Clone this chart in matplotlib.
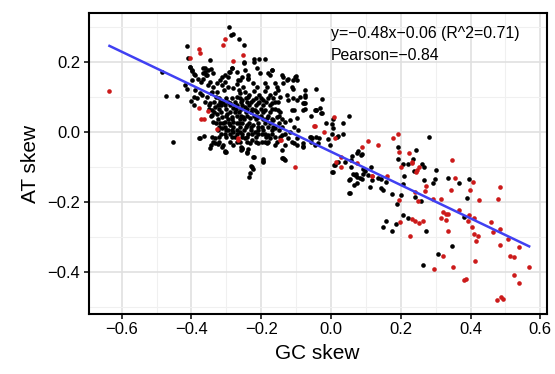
import numpy as np
import matplotlib
matplotlib.use("Agg")
import matplotlib.pyplot as plt
from matplotlib.ticker import MultipleLocator

plt.rcParams["font.family"] = ["Liberation Sans", "DejaVu Sans"]

# (GC skew, AT skew) pairs
black_upper = [
    (-0.291, 0.300), (-0.281, 0.278), (-0.287, 0.276), (-0.264, 0.264), (-0.249, 0.249),
    (-0.413, 0.246), (-0.411, 0.210), (-0.348, 0.205), (-0.484, 0.171), (-0.472, 0.103),
    (-0.441, 0.103), (-0.452, -0.029), (-0.222, 0.207), (-0.206, 0.207), (-0.189, 0.207),
    (-0.249, 0.200), (-0.249, 0.197), (-0.220, 0.200), (-0.285, 0.181), (-0.292, 0.171),
    (-0.270, 0.171), (-0.361, 0.181), (-0.353, 0.176), (-0.344, 0.178), (-0.404, 0.184),
    (-0.399, 0.176), (-0.394, 0.166), (-0.359, 0.162), (-0.366, 0.167), (-0.339, 0.167),
    (-0.213, 0.181), (-0.203, 0.167), (-0.181, 0.167), (-0.170, 0.176), (-0.246, 0.176),
    (-0.237, 0.162), (-0.266, 0.148), (-0.304, 0.162), (-0.313, 0.157), (-0.256, 0.157),
    (-0.141, 0.162), (-0.127, 0.148), (-0.103, 0.157), (-0.098, 0.148), (-0.112, 0.129),
    (-0.074, 0.119), (-0.043, 0.121), (-0.043, 0.062), (-0.078, 0.081), (-0.107, 0.062),
    (-0.056, 0.045), (-0.175, 0.162), (-0.168, 0.176), (-0.139, 0.157), (-0.124, 0.151),
    (-0.100, 0.160), (-0.239, 0.154), (-0.223, 0.138), (-0.213, 0.129), (-0.189, 0.138),
    (-0.184, 0.129), (-0.160, 0.138), (-0.156, 0.129), (-0.151, 0.119), (-0.137, 0.138),
    (-0.108, 0.148), (-0.108, 0.122), (-0.074, 0.105), (-0.261, 0.148), (-0.251, 0.129),
    (-0.237, 0.152), (-0.265, 0.119), (-0.246, 0.114),
    (-0.404, 0.184), (-0.399, 0.173), (-0.390, 0.162), (-0.380, 0.152), (-0.366, 0.181),
    (-0.361, 0.171), (-0.356, 0.162), (-0.366, 0.152), (-0.373, 0.143), (-0.399, 0.148),
    (-0.347, 0.143), (-0.352, 0.133), (-0.337, 0.129), (-0.328, 0.138), (-0.318, 0.148),
    (-0.313, 0.133), (-0.304, 0.143), (-0.294, 0.157), (-0.290, 0.171), (-0.283, 0.181),
    (-0.294, 0.129), (-0.308, 0.119), (-0.328, 0.114), (-0.342, 0.114), (-0.418, 0.133),
    (-0.414, 0.122), (-0.390, 0.119), (-0.376, 0.110), (-0.394, 0.100),
    (-0.280, 0.125), (-0.270, 0.135), (-0.260, 0.110), (-0.235, 0.105), (-0.220, 0.115),
    (-0.205, 0.105), (-0.190, 0.115), (-0.175, 0.105), (-0.160, 0.110), (-0.145, 0.100),
    (-0.125, 0.105), (-0.110, 0.095), (-0.090, 0.100), (-0.385, 0.095), (-0.370, 0.105),
    (-0.355, 0.098), (-0.345, 0.110), (-0.330, 0.100), (-0.360, 0.085), (-0.350, 0.075),
    (-0.340, 0.062), (-0.392, 0.075), (-0.400, 0.088),
]

black_core = [
    (-0.347, 0.081), (-0.333, 0.072), (-0.318, 0.086), (-0.304, 0.076), (-0.290, 0.081),
    (-0.280, 0.067), (-0.342, 0.048), (-0.328, 0.052), (-0.313, 0.043), (-0.299, 0.052),
    (-0.285, 0.043), (-0.337, 0.029), (-0.318, 0.024), (-0.304, 0.029), (-0.290, 0.019),
    (-0.280, 0.029), (-0.313, 0.010), (-0.294, 0.005), (-0.280, 0.000), (-0.304, -0.005),
    (-0.285, -0.014), (-0.290, -0.029), (-0.270, 0.100), (-0.256, 0.090), (-0.237, 0.100),
    (-0.223, 0.090), (-0.208, 0.081), (-0.194, 0.090), (-0.180, 0.097), (-0.170, 0.081),
    (-0.151, 0.062), (-0.189, 0.062), (-0.218, 0.062), (-0.246, 0.071), (-0.265, 0.057),
    (-0.251, 0.043), (-0.232, 0.038), (-0.208, 0.043), (-0.184, 0.038), (-0.165, 0.033),
    (-0.156, 0.043), (-0.265, 0.024), (-0.242, 0.019), (-0.223, 0.019), (-0.199, 0.015),
    (-0.180, 0.015), (-0.160, 0.010), (-0.141, 0.015), (-0.261, 0.000), (-0.237, -0.005),
    (-0.218, 0.000), (-0.199, -0.005), (-0.180, -0.010), (-0.160, -0.014), (-0.246, -0.019),
    (-0.227, -0.024), (-0.258, -0.043), (-0.254, -0.050), (-0.237, -0.048), (-0.199, -0.029),
    (-0.180, -0.029), (-0.160, -0.038), (-0.146, -0.014), (-0.132, -0.005), (-0.122, -0.019),
    (-0.118, 0.000), (-0.105, 0.015), (-0.094, 0.005), (-0.080, -0.033), (-0.061, -0.014),
    (-0.042, -0.014), (-0.056, -0.028), (-0.098, 0.038), (-0.118, 0.033), (-0.132, 0.029),
    (-0.151, 0.086), (-0.122, 0.090), (-0.098, 0.090), (-0.075, 0.081), (-0.046, 0.062),
    (-0.032, 0.067), (-0.113, 0.062), (-0.080, 0.062), (-0.105, -0.033), (-0.098, -0.019),
    (-0.378, -0.017), (-0.364, -0.011), (-0.342, -0.014), (-0.337, -0.029), (-0.347, -0.045),
    (-0.325, -0.036), (-0.309, -0.038), (-0.304, -0.055), (-0.333, -0.019),
    (-0.320, 0.095), (-0.300, 0.095), (-0.285, 0.095), (-0.262, 0.095), (-0.245, 0.095),
    (-0.215, 0.095), (-0.200, 0.095), (-0.165, 0.095), (-0.335, 0.085), (-0.310, 0.085),
    (-0.295, 0.085), (-0.275, 0.085), (-0.258, 0.085), (-0.240, 0.085), (-0.228, 0.085),
    (-0.205, 0.085), (-0.185, 0.085), (-0.160, 0.085), (-0.325, 0.075), (-0.315, 0.075),
    (-0.290, 0.075), (-0.270, 0.075), (-0.255, 0.075), (-0.235, 0.075), (-0.215, 0.075),
    (-0.195, 0.075), (-0.175, 0.075), (-0.350, 0.065), (-0.320, 0.065), (-0.300, 0.065),
    (-0.272, 0.065), (-0.257, 0.065), (-0.240, 0.065), (-0.225, 0.065), (-0.200, 0.065),
    (-0.170, 0.065), (-0.160, 0.065), (-0.335, 0.055), (-0.315, 0.055), (-0.290, 0.055),
    (-0.275, 0.055), (-0.245, 0.055), (-0.230, 0.055), (-0.212, 0.055), (-0.195, 0.055),
    (-0.175, 0.055), (-0.145, 0.055), (-0.345, 0.045), (-0.300, 0.045), (-0.270, 0.045),
    (-0.258, 0.045), (-0.240, 0.045), (-0.220, 0.045), (-0.200, 0.045), (-0.180, 0.045),
    (-0.150, 0.045), (-0.325, 0.035), (-0.295, 0.035), (-0.285, 0.035), (-0.262, 0.035),
    (-0.248, 0.035), (-0.215, 0.035), (-0.195, 0.035), (-0.170, 0.035), (-0.140, 0.035),
    (-0.330, 0.025), (-0.310, 0.025), (-0.292, 0.025), (-0.270, 0.025), (-0.255, 0.025),
    (-0.235, 0.025), (-0.210, 0.025), (-0.190, 0.025), (-0.175, 0.025), (-0.150, 0.025),
    (-0.320, 0.015), (-0.305, 0.015), (-0.280, 0.015), (-0.260, 0.015), (-0.245, 0.015),
    (-0.230, 0.015), (-0.210, 0.015), (-0.165, 0.015), (-0.325, 0.005), (-0.300, 0.005),
    (-0.285, 0.005), (-0.270, 0.005), (-0.250, 0.005), (-0.230, 0.005), (-0.210, 0.005),
    (-0.195, 0.005), (-0.170, 0.005), (-0.150, 0.005), (-0.315, -0.005), (-0.290, -0.005),
    (-0.270, -0.005), (-0.255, -0.005), (-0.225, -0.005), (-0.210, -0.005), (-0.190, -0.005),
    (-0.170, -0.005), (-0.320, -0.015), (-0.300, -0.015), (-0.275, -0.015), (-0.255, -0.015),
    (-0.240, -0.015), (-0.215, -0.015), (-0.185, -0.015), (-0.320, -0.030), (-0.270, -0.030),
    (-0.260, -0.030), (-0.240, -0.030), (-0.215, -0.030), (-0.190, -0.030),
    (-0.376, -0.017), (-0.344, -0.038), (-0.333, -0.033), (-0.313, -0.043), (-0.304, -0.057),
    (-0.281, -0.038), (-0.256, -0.047), (-0.242, -0.057), (-0.232, -0.031), (-0.208, -0.033),
    (-0.184, -0.033), (-0.175, -0.019), (-0.156, -0.028), (-0.141, -0.009), (-0.132, -0.038),
    (-0.113, -0.028), (-0.098, -0.038), (-0.079, -0.043), (-0.056, -0.014), (-0.036, -0.033),
    (-0.223, -0.071), (-0.194, -0.079), (-0.137, -0.076), (-0.132, -0.081),
    (-0.302, -0.057), (-0.259, -0.052), (-0.242, -0.062), (-0.220, -0.073), (-0.195, -0.084),
    (-0.230, -0.098), (-0.224, -0.107), (-0.234, -0.129), (-0.141, -0.076), (-0.135, -0.079),
    (-0.141, -0.052), (-0.194, -0.086), (-0.227, -0.100), (-0.232, -0.119),
]

black_right = [
    (0.004, -0.116), (0.010, -0.095), (0.040, -0.086), (0.061, -0.070), (0.075, -0.060),
    (0.088, -0.064), (0.057, -0.100), (0.053, -0.138), (0.052, -0.174), (0.069, -0.124),
    (0.075, -0.130), (0.066, -0.153), (0.083, -0.133), (0.091, -0.121), (0.098, -0.111),
    (0.107, -0.124), (0.115, -0.102), (0.117, -0.138), (0.112, -0.157), (0.074, -0.147),
    (0.064, -0.121), (0.136, -0.133), (0.144, -0.162), (0.157, -0.144), (0.174, -0.177),
    (0.188, -0.205), (0.202, -0.182), (0.207, -0.148), (0.209, -0.127), (0.193, -0.077),
    (0.205, -0.093), (0.221, -0.093), (0.236, -0.079), (0.237, -0.111), (0.262, -0.091),
    (0.267, -0.100), (0.244, -0.052), (0.266, -0.138), (0.241, -0.186), (0.258, -0.197),
    (0.205, -0.238), (0.221, -0.245), (0.273, -0.284), (0.158, -0.254), (0.150, -0.271),
    (0.185, -0.264), (0.176, -0.284), (0.263, -0.381), (0.308, -0.349), (0.346, -0.326),
    (0.381, -0.243), (0.302, -0.109), (0.293, -0.145), (0.297, -0.135), (0.334, -0.133),
    (0.367, -0.145), (0.396, -0.136), (0.391, -0.189), (0.282, -0.014), (0.191, -0.043),
    (-0.027, 0.053), (-0.014, 0.026), (0.002, 0.022), (0.005, 0.035), (0.052, 0.045),
    (0.035, 0.026), (-0.009, -0.022), (0.003, -0.007), (0.020, -0.012), (0.035, -0.007),
    (0.087, -0.065), (0.078, -0.054), (0.021, -0.086), (0.011, -0.095), (0.005, -0.116),
    (0.056, -0.081), (0.072, -0.121), (0.088, -0.134), (0.093, -0.105), (0.054, -0.135),
    (0.149, -0.165), (0.143, -0.134), (0.054, -0.174), (-0.074, 0.100), (-0.079, 0.083),
    (-0.074, 0.064), (-0.026, 0.093), (-0.044, 0.062), (-0.030, 0.053), (0.007, 0.011),
    (0.018, -0.014), (-0.055, -0.017), (-0.035, -0.017), (-0.046, -0.038), (-0.079, -0.041),
    (-0.003, -0.038),
]

red_pts = [
    (-0.635, 0.117), (-0.403, 0.210), (-0.377, 0.235), (-0.375, 0.226), (-0.303, 0.264),
    (-0.309, 0.248), (-0.251, 0.219), (-0.280, 0.203), (-0.377, 0.068), (-0.352, 0.060),
    (-0.372, 0.037), (-0.364, 0.035), (-0.326, 0.008), (-0.266, -0.023), (-0.047, 0.017),
    (-0.144, -0.024), (-0.102, -0.101), (0.015, -0.085), (0.028, -0.100), (0.117, -0.127),
    (0.160, -0.127), (0.196, -0.196), (0.201, -0.100), (0.194, -0.057), (0.223, -0.060),
    (0.232, -0.088), (0.247, -0.109), (0.252, -0.102), (0.271, -0.155), (0.269, -0.169),
    (0.240, -0.171), (0.249, -0.197), (0.199, -0.259), (0.233, -0.250), (0.241, -0.255),
    (0.252, -0.260), (0.265, -0.254), (0.226, -0.299), (0.295, -0.392), (0.322, -0.354),
    (0.336, -0.283), (0.350, -0.385), (0.381, -0.424), (0.386, -0.422), (0.413, -0.369),
    (0.415, -0.311), (0.422, -0.298), (0.409, -0.292), (0.404, -0.272), (0.392, -0.254),
    (0.396, -0.237), (0.409, -0.247), (0.366, -0.223), (0.322, -0.229), (0.329, -0.235),
    (0.334, -0.235), (0.330, -0.251), (0.315, -0.246), (0.314, -0.191), (0.293, -0.191),
    (0.343, -0.165), (0.356, -0.133), (0.346, -0.082), (0.407, -0.143), (0.397, -0.167),
    (0.424, -0.195), (0.483, -0.157), (0.479, -0.191), (0.459, -0.258), (0.465, -0.287),
    (0.485, -0.279), (0.484, -0.324), (0.507, -0.305), (0.540, -0.329), (0.514, -0.355),
    (0.524, -0.357), (0.568, -0.387), (0.524, -0.408), (0.540, -0.433), (0.476, -0.481),
    (0.487, -0.471), (0.494, -0.478), (0.009, 0.043), (-0.048, 0.016), (-0.020, -0.001),
    (0.011, -0.017), (0.089, -0.043), (0.107, -0.027), (0.136, -0.038), (0.179, -0.019),
    (0.192, -0.005), (0.074, -0.089), (0.029, -0.071), (0.118, -0.127), (0.245, -0.114),
    (0.231, -0.087), (-0.267, -0.019), (-0.146, -0.024),
]

# fitted line reported in the figure
fit_slope = -0.476
fit_intercept = -0.057
fit_label = "y=\u22120.48x\u22120.06 (R^2=0.71)"
pearson_label = "Pearson=\u22120.84"

black = np.array(black_upper + black_core + black_right)
red = np.array(red_pts)
all_x = np.concatenate([black[:, 0], red[:, 0]])

fig = plt.figure(figsize=(5.55, 3.74), dpi=100)
ax = fig.add_axes([0.1595, 0.160, 0.826, 0.806])

ax.scatter(black[:, 0], black[:, 1], s=11, color="black", linewidths=0, zorder=3)
ax.scatter(red[:, 0], red[:, 1], s=11, color="#CC1A1A", linewidths=0, zorder=3)

line_x = np.array([all_x.min(), all_x.max()])
ax.plot(line_x, fit_slope * line_x + fit_intercept, color="#4040F2", lw=1.8, zorder=4)

ax.text(0.0, 0.281, fit_label, fontsize=11.4, va="center", ha="left")
ax.text(0.0, 0.219, pearson_label, fontsize=11.4, va="center", ha="left")

ax.set_xlim(-0.695, 0.619)
ax.set_ylim(-0.521, 0.340)
ax.xaxis.set_major_locator(MultipleLocator(0.2))
ax.xaxis.set_minor_locator(MultipleLocator(0.1))
ax.yaxis.set_major_locator(MultipleLocator(0.2))
ax.yaxis.set_minor_locator(MultipleLocator(0.1))
ax.xaxis.set_major_formatter(lambda v, p: f"{v:.1f}".replace("-", "\u2212"))
ax.yaxis.set_major_formatter(lambda v, p: f"{v:.1f}".replace("-", "\u2212"))

ax.grid(True, which="major", color="#E0E0E0", lw=1.2, zorder=0)
ax.grid(True, which="minor", color="#F0F0F0", lw=0.8, zorder=0)
ax.set_axisbelow(True)
ax.tick_params(which="minor", length=0)
ax.tick_params(which="major", length=3.5, width=1.1, labelsize=12, color="black", pad=2.5)
for sp in ax.spines.values():
    sp.set_linewidth(1.5)
    sp.set_color("black")

ax.set_xlabel("GC skew", fontsize=15, labelpad=5)
ax.set_ylabel("AT skew", fontsize=15, labelpad=5)

fig.savefig("out.png", dpi=100)
